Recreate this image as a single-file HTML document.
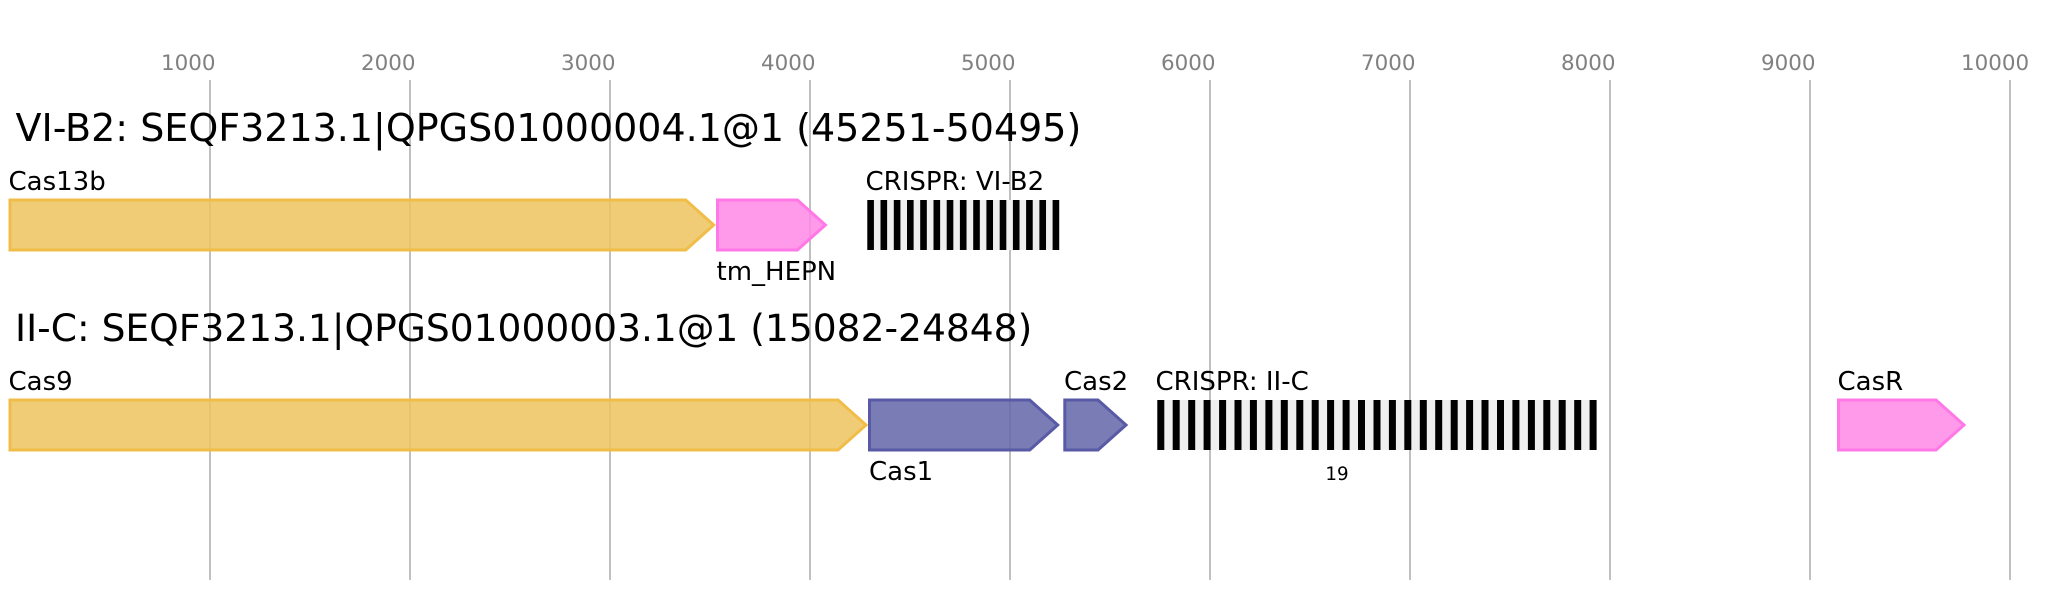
<!DOCTYPE html>
<html>
<head>
<meta charset="utf-8">
<style>
  html, body { margin: 0; padding: 0; background: #ffffff; }
  svg { display: block; }
  text { font-family: "DejaVu Sans", "Liberation Sans", sans-serif; }
</style>
</head>
<body>
<svg width="2053" height="600" viewBox="0 0 2053 600" xmlns="http://www.w3.org/2000/svg">
  <rect x="0" y="0" width="2053" height="600" fill="#ffffff"/>

  <!-- grid lines -->
  <g stroke="#c0c0c0" stroke-width="2">
    <line x1="210" y1="80" x2="210" y2="580"/>
    <line x1="410" y1="80" x2="410" y2="580"/>
    <line x1="610" y1="80" x2="610" y2="580"/>
    <line x1="810" y1="80" x2="810" y2="580"/>
    <line x1="1010" y1="80" x2="1010" y2="580"/>
    <line x1="1210" y1="80" x2="1210" y2="580"/>
    <line x1="1410" y1="80" x2="1410" y2="580"/>
    <line x1="1610" y1="80" x2="1610" y2="580"/>
    <line x1="1810" y1="80" x2="1810" y2="580"/>
    <line x1="2010" y1="80" x2="2010" y2="580"/>
  </g>

  <!-- axis labels -->
  <g fill="#808080" font-size="21.4">
    <text x="161" y="70">1000</text>
    <text x="361" y="70">2000</text>
    <text x="561" y="70">3000</text>
    <text x="761" y="70">4000</text>
    <text x="961" y="70">5000</text>
    <text x="1161" y="70">6000</text>
    <text x="1361" y="70">7000</text>
    <text x="1561" y="70">8000</text>
    <text x="1761" y="70">9000</text>
    <text x="1961" y="70">10000</text>
  </g>

  <!-- titles -->
  <text x="15.5" y="141" font-size="38" fill="#000">VI-B2: SEQF3213.1|QPGS01000004.1@1 (45251-50495)</text>
  <text x="15" y="341" font-size="37.6" fill="#000">II-C: SEQF3213.1|QPGS01000003.1@1 (15082-24848)</text>

  <!-- Row 1 genes -->
  <polygon points="10,200 685.7,200 713.7,225 685.7,250 10,250" fill="#eec35e" fill-opacity="0.85" stroke="#f0be48" stroke-width="3"/>
  <polygon points="717.5,200 797.4,200 825.4,225 797.4,250 717.5,250" fill="#ff87e6" fill-opacity="0.85" stroke="#ff78e6" stroke-width="3"/>

  <!-- CRISPR VI-B2 -->
  <rect x="867.3" y="200" width="191.9" height="50" fill="#efefef"/>
  <g fill="#000">
    <rect x="867.3" y="200" width="6.62" height="50"/>
    <rect x="880.5" y="200" width="6.62" height="50"/>
    <rect x="893.8" y="200" width="6.62" height="50"/>
    <rect x="907.0" y="200" width="6.62" height="50"/>
    <rect x="920.2" y="200" width="6.62" height="50"/>
    <rect x="933.5" y="200" width="6.62" height="50"/>
    <rect x="946.7" y="200" width="6.62" height="50"/>
    <rect x="959.9" y="200" width="6.62" height="50"/>
    <rect x="973.2" y="200" width="6.62" height="50"/>
    <rect x="986.4" y="200" width="6.62" height="50"/>
    <rect x="999.7" y="200" width="6.62" height="50"/>
    <rect x="1012.9" y="200" width="6.62" height="50"/>
    <rect x="1026.1" y="200" width="6.62" height="50"/>
    <rect x="1039.4" y="200" width="6.62" height="50"/>
    <rect x="1052.6" y="200" width="6.62" height="50"/>
  </g>

  <!-- Row 1 labels -->
  <g font-size="26" fill="#000">
    <text x="8.5" y="190">Cas13b</text>
    <text x="716.5" y="280">tm_HEPN</text>
    <text x="865.5" y="190">CRISPR: VI-B2</text>
  </g>

  <!-- Row 2 genes -->
  <polygon points="10,400 838,400 866,425 838,450 10,450" fill="#eec35e" fill-opacity="0.85" stroke="#f0be48" stroke-width="3"/>
  <polygon points="869.5,400 1029.7,400 1057.7,425 1029.7,450 869.5,450" fill="#6265a8" fill-opacity="0.85" stroke="#585aa5" stroke-width="3"/>
  <polygon points="1064.8,400 1098,400 1126,425 1098,450 1064.8,450" fill="#6265a8" fill-opacity="0.85" stroke="#585aa5" stroke-width="3"/>
  <polygon points="1838.5,400 1936,400 1964,425 1936,450 1838.5,450" fill="#ff87e6" fill-opacity="0.85" stroke="#ff78e6" stroke-width="3"/>

  <!-- CRISPR II-C -->
  <rect x="1157.3" y="400" width="439.4" height="50" fill="#efefef"/>
  <g fill="#000">
    <rect x="1157.3" y="400" width="7" height="50"/>
    <rect x="1172.7" y="400" width="7" height="50"/>
    <rect x="1188.2" y="400" width="7" height="50"/>
    <rect x="1203.6" y="400" width="7" height="50"/>
    <rect x="1219.1" y="400" width="7" height="50"/>
    <rect x="1234.5" y="400" width="7" height="50"/>
    <rect x="1249.9" y="400" width="7" height="50"/>
    <rect x="1265.4" y="400" width="7" height="50"/>
    <rect x="1280.8" y="400" width="7" height="50"/>
    <rect x="1296.3" y="400" width="7" height="50"/>
    <rect x="1311.7" y="400" width="7" height="50"/>
    <rect x="1327.1" y="400" width="7" height="50"/>
    <rect x="1342.6" y="400" width="7" height="50"/>
    <rect x="1358.0" y="400" width="7" height="50"/>
    <rect x="1373.5" y="400" width="7" height="50"/>
    <rect x="1388.9" y="400" width="7" height="50"/>
    <rect x="1404.3" y="400" width="7" height="50"/>
    <rect x="1419.8" y="400" width="7" height="50"/>
    <rect x="1435.2" y="400" width="7" height="50"/>
    <rect x="1450.7" y="400" width="7" height="50"/>
    <rect x="1466.1" y="400" width="7" height="50"/>
    <rect x="1481.5" y="400" width="7" height="50"/>
    <rect x="1497.0" y="400" width="7" height="50"/>
    <rect x="1512.4" y="400" width="7" height="50"/>
    <rect x="1527.9" y="400" width="7" height="50"/>
    <rect x="1543.3" y="400" width="7" height="50"/>
    <rect x="1558.7" y="400" width="7" height="50"/>
    <rect x="1574.2" y="400" width="7" height="50"/>
    <rect x="1589.6" y="400" width="7" height="50"/>
  </g>

  <!-- Row 2 labels -->
  <g font-size="26" fill="#000">
    <text x="8.5" y="390">Cas9</text>
    <text x="869" y="480">Cas1</text>
    <text x="1064" y="390">Cas2</text>
    <text x="1155.5" y="390">CRISPR: II-C</text>
    <text x="1837.5" y="390">CasR</text>
  </g>
  <text x="1337" y="480" font-size="18.3" fill="#000" text-anchor="middle">19</text>
</svg>
</body>
</html>
